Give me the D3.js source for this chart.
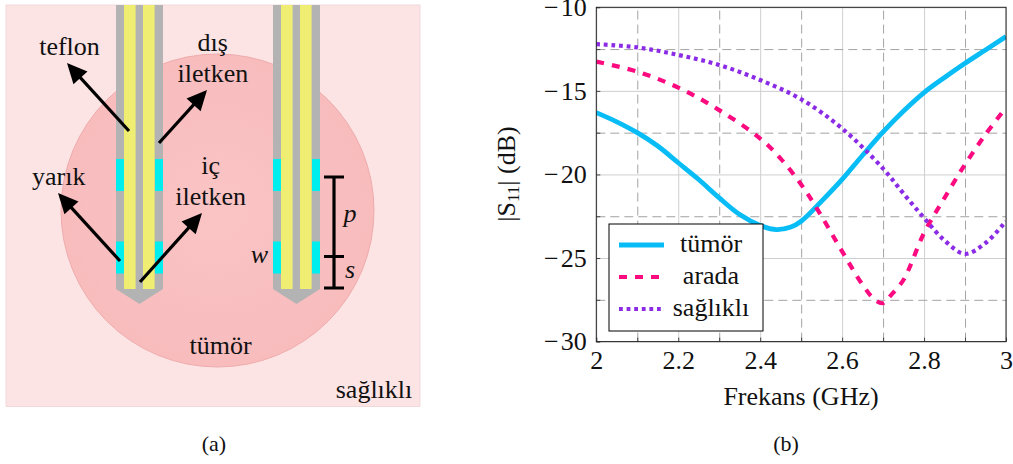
<!DOCTYPE html>
<html>
<head>
<meta charset="utf-8">
<script src="https://cdn.jsdelivr.net/npm/d3@7"></script>
<style>
html, body { margin: 0; padding: 0; background: #fff; overflow: hidden; }
text { font-family: "Liberation Serif", serif; fill: #111; }
</style>
</head>
<body>
<div id="chart"></div>
<script>
// series values
var tumorFreq = [2, 2.05, 2.1, 2.15, 2.2, 2.25, 2.3, 2.35, 2.4, 2.44, 2.475, 2.5, 2.55, 2.6, 2.65, 2.7, 2.75, 2.8, 2.85, 2.9, 2.95, 3];
var tumorS11 = [-16.3, -16.85, -17.5, -18.3, -19.3, -20.3, -21.4, -22.4, -23.05, -23.3, -23.15, -22.8, -21.6, -20.3, -18.85, -17.45, -16.2, -15.1, -14.2, -13.35, -12.55, -11.75];

var aradaFreq = [2, 2.1, 2.2, 2.3, 2.4, 2.45, 2.5, 2.54, 2.6, 2.65, 2.68, 2.7, 2.72, 2.75, 2.8, 2.85, 2.9, 2.95, 3];
var aradaS11 = [-13.25, -13.85, -14.8, -16.15, -17.85, -19.05, -20.6, -22.1, -24.6, -26.6, -27.5, -27.7, -27.2, -26.3, -23.5, -21.4, -19.4, -17.6, -16];

var saglikliFreq = [2, 2.1, 2.2, 2.3, 2.4, 2.5, 2.6, 2.7, 2.75, 2.8, 2.85, 2.9, 2.95, 3];
var saglikliS11 = [-12.2, -12.4, -12.85, -13.45, -14.35, -15.5, -17.25, -19.65, -21.15, -22.6, -23.95, -24.75, -24.1, -22.8];

var legendLabels = ["tümör", "arada", "sağlıklı"];
var xMajor = [2, 2.2, 2.4, 2.6, 2.8, 3];
var xMinor = [2.1, 2.3, 2.5, 2.7, 2.9];
var yMajor = [-30, -25, -20, -15, -10];
var yMinor = [-27.5, -22.5, -17.5, -12.5];

var seriesColors = ["#08bdf6", "#fb0a80", "#8b2be6"];
var seriesWidth = [4.8, 4.2, 4.2];
var seriesDash = [null, "8 8", "3.8 3.8"];

var svg = d3.select("#chart").append("svg")
    .attr("width", 1013)
    .attr("height", 464)
    .style("display", "block");

// ---- panel (a) ----
var schema = svg.append("g");

schema.append("rect")
    .attr("x", 6).attr("y", 5)
    .attr("width", 414).attr("height", 401.5)
    .attr("fill", "#fce4e4")
    .attr("stroke", "#eed3d5")
    .attr("stroke-width", 0.8);

var tumorGrad = svg.append("defs").append("radialGradient").attr("id", "tumorGrad");
tumorGrad.append("stop").attr("offset", "0%").attr("stop-color", "#fac4c5");
tumorGrad.append("stop").attr("offset", "100%").attr("stop-color", "#f8bcbd");

schema.append("circle")
    .attr("cx", 217.5).attr("cy", 210.5).attr("r", 156.5)
    .attr("fill", "url(#tumorGrad)")
    .attr("stroke", "#efabac")
    .attr("stroke-width", 1);

function drawProbe(x0) {
    var g = schema.append("g").attr("transform", "translate(" + x0 + ",0)");
    g.append("path")
        .attr("d", "M0,5V289L23.5,304L47,289V5Z")
        .attr("fill", "#b3b3b3");
    [8, 27].forEach(function (dx) {
        g.append("rect").attr("x", dx).attr("y", 5)
            .attr("width", 11.6).attr("height", 284)
            .attr("fill", "#efee73");
    });
    [[0, 159], [39, 159], [0, 241.5], [39, 241.5]].forEach(function (s) {
        g.append("rect").attr("x", s[0]).attr("y", s[1])
            .attr("width", 8).attr("height", 32)
            .attr("fill", "#00eeee");
    });
}
drawProbe(116);
drawProbe(273);

function drawArrow(x1, y1, x2, y2) {
    var a = Math.atan2(y2 - y1, x2 - x1) * 180 / Math.PI;
    var len = Math.sqrt((x2 - x1) * (x2 - x1) + (y2 - y1) * (y2 - y1));
    var g = schema.append("g")
        .attr("transform", "translate(" + x1 + "," + y1 + ") rotate(" + a + ")");
    g.append("line").attr("x1", 0).attr("y1", 0).attr("x2", len - 12).attr("y2", 0)
        .attr("stroke", "#000").attr("stroke-width", 3.2);
    g.append("path")
        .attr("d", "M" + len + ",0L" + (len - 20) + ",-9.5L" + (len - 20) + ",9.5Z")
        .attr("fill", "#000");
}
drawArrow(129, 131, 67, 63);
drawArrow(159, 143, 207, 90);
drawArrow(120, 261, 58, 193);
drawArrow(140, 282, 202, 213);

// p / s dimension bars
schema.append("path")
    .attr("d", "M334,177V288M324,177H344M324,256.5H344M324,288H344")
    .attr("fill", "none")
    .attr("stroke", "#000")
    .attr("stroke-width", 3.2);

var schemaLabels = [
    ["teflon", 69.5, 54.5, "normal"],
    ["dış", 212.7, 50.5, "normal"],
    ["iletken", 213, 81.5, "normal"],
    ["iç", 210.7, 174, "normal"],
    ["iletken", 210.7, 205, "normal"],
    ["yarık", 58.7, 185, "normal"],
    ["tümör", 220.5, 354, "normal"],
    ["sağlıklı", 374, 397.5, "normal"],
    ["p", 350, 222, "italic"],
    ["w", 259.5, 263, "italic"],
    ["s", 350, 278, "italic"]
];
schema.selectAll("text.lab")
    .data(schemaLabels)
    .enter().append("text")
    .attr("class", "lab")
    .attr("x", function (d) { return d[1]; })
    .attr("y", function (d) { return d[2]; })
    .attr("text-anchor", "middle")
    .attr("font-size", 26)
    .attr("font-style", function (d) { return d[3]; })
    .text(function (d) { return d[0]; });

svg.append("text").attr("x", 214).attr("y", 450.5)
    .attr("text-anchor", "middle").attr("font-size", 22).text("(a)");
svg.append("text").attr("x", 786).attr("y", 450.5)
    .attr("text-anchor", "middle").attr("font-size", 22).text("(b)");

// ---- panel (b) ----
var margin = {top: 7.3, left: 596.3},
    width = 409.7,
    height = 334.3;

var x = d3.scaleLinear().domain([2, 3]).range([0, width]);
var y = d3.scaleLinear().domain([-30, -10]).range([height, 0]);

var plot = svg.append("g")
    .attr("transform", "translate(" + margin.left + "," + margin.top + ")");

function gridX(values, color, dash) {
    var g = plot.append("g")
        .attr("transform", "translate(0," + height + ")")
        .call(d3.axisBottom(x).tickValues(values).tickSize(-height).tickFormat(""));
    g.select(".domain").remove();
    g.selectAll("line").attr("stroke", color).attr("stroke-width", 1).attr("stroke-dasharray", dash);
}
function gridY(values, color, dash) {
    var g = plot.append("g")
        .call(d3.axisLeft(y).tickValues(values).tickSize(-width).tickFormat(""));
    g.select(".domain").remove();
    g.selectAll("line").attr("stroke", color).attr("stroke-width", 1).attr("stroke-dasharray", dash);
}
gridX(xMajor, "#cfcfcf", null);
gridY(yMajor, "#cfcfcf", null);
gridX(xMinor, "#a3a3a3", "9 5");
gridY(yMinor, "#a3a3a3", "9 5");

var line = d3.line()
    .x(function (d) { return x(d[0]); })
    .y(function (d) { return y(d[1]); })
    .curve(d3.curveCatmullRom.alpha(0.5));

var clip = svg.select("defs").append("clipPath").attr("id", "plotClip");
clip.append("rect").attr("width", width).attr("height", height);

var curves = plot.append("g").attr("clip-path", "url(#plotClip)");
[[tumorFreq, tumorS11], [aradaFreq, aradaS11], [saglikliFreq, saglikliS11]].forEach(function (s, i) {
    curves.append("path")
        .datum(d3.zip(s[0], s[1]))
        .attr("fill", "none")
        .attr("stroke", seriesColors[i])
        .attr("stroke-width", seriesWidth[i])
        .attr("stroke-dasharray", seriesDash[i])
        .attr("d", line);
});

// axes, ticks point inwards
var fmt = function (d) { return String(d).replace("-", "\u2212\u200a"); };
var xAxis = plot.append("g")
    .attr("transform", "translate(0," + height + ")")
    .call(d3.axisBottom(x).tickValues(xMajor).tickSize(0).tickPadding(9).tickFormat(fmt));
var yAxis = plot.append("g")
    .call(d3.axisLeft(y).tickValues(yMajor).tickSize(0).tickPadding(9.5).tickFormat(fmt));
xAxis.select(".domain").remove();
yAxis.select(".domain").remove();
xAxis.selectAll("text").attr("font-size", 26).attr("font-family", "Liberation Serif");
yAxis.selectAll("text").attr("font-size", 26).attr("font-family", "Liberation Serif");

function innerTicks(axis, scale, values, size) {
    plot.append("g")
        .attr("transform", axis == "x" ? "translate(0," + height + ")" : null)
        .call(axis == "x"
            ? d3.axisBottom(scale).tickValues(values).tickSize(-size).tickFormat("")
            : d3.axisLeft(scale).tickValues(values).tickSize(-size).tickFormat(""))
        .call(function (g) { g.select(".domain").remove(); })
        .selectAll("line").attr("stroke", "#444").attr("stroke-width", 1);
}
innerTicks("x", x, xMajor.concat(xMinor), 4);
innerTicks("y", y, yMajor.concat(yMinor), 4);

plot.append("rect")
    .attr("width", width).attr("height", height)
    .attr("fill", "none").attr("stroke", "#222").attr("stroke-width", 1);

svg.append("text")
    .attr("x", 801).attr("y", 404.5)
    .attr("text-anchor", "middle").attr("font-size", 26)
    .text("Frekans (GHz)");

var yLabel = svg.append("text")
    .attr("transform", "translate(515,174) rotate(-90)")
    .attr("text-anchor", "middle").attr("font-size", 26);
yLabel.append("tspan").text("|S");
yLabel.append("tspan").attr("font-size", 17).attr("dy", 4).text("11");
yLabel.append("tspan").attr("dy", -4).text("| (dB)");

// legend
var legend = svg.append("g").attr("transform", "translate(609,224)");
legend.append("rect")
    .attr("width", 154).attr("height", 107)
    .attr("fill", "#fff").attr("stroke", "#000").attr("stroke-width", 1);
legendLabels.forEach(function (label, i) {
    var ly = 21 + i * 32;
    legend.append("line")
        .attr("x1", 10).attr("x2", 55).attr("y1", ly).attr("y2", ly)
        .attr("stroke", seriesColors[i])
        .attr("stroke-width", seriesWidth[i])
        .attr("stroke-dasharray", seriesDash[i]);
    legend.append("text")
        .attr("x", 102).attr("y", ly + 6.5)
        .attr("text-anchor", "middle").attr("font-size", 26)
        .text(label);
});
</script>
</body>
</html>
